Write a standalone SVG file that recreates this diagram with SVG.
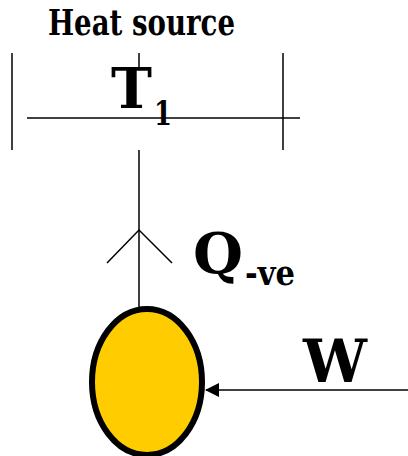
<svg xmlns="http://www.w3.org/2000/svg" width="408" height="456" viewBox="0 0 408 456">
<defs>
<style>
.t{font-family:'DejaVu Serif',serif;font-weight:700;fill:#000}
.ln{stroke:#000;stroke-width:1.5;fill:none}
</style>
<marker id="ah" markerWidth="14" markerHeight="14" refX="13" refY="7" orient="auto" markerUnits="userSpaceOnUse">
<path d="M0,0 L14,7 L0,14 Z" fill="#000"/>
</marker>
</defs>
<rect width="408" height="456" fill="#fff"/>
<g id="heat-source">
<text class="t" x="48" y="35" font-size="35" textLength="187" lengthAdjust="spacingAndGlyphs">Heat source</text>
<line class="ln" x1="12" y1="53" x2="12" y2="150"/>
<line class="ln" x1="283" y1="53" x2="283" y2="150"/>
<line class="ln" x1="27" y1="118" x2="300" y2="118"/>
<line class="ln" x1="139" y1="53" x2="139" y2="70"/>
<text class="t" x="111" y="108" font-size="56" textLength="41" lengthAdjust="spacingAndGlyphs">T</text>
<text class="t" x="154" y="125" font-size="34" textLength="18" lengthAdjust="spacingAndGlyphs">1</text>
</g>
<g id="system">
<ellipse cx="147" cy="382" rx="55" ry="73" fill="#FFCC00" stroke="#000" stroke-width="6"/>
</g>
<g id="connectors">
<line class="ln" x1="139" y1="150" x2="139" y2="309"/>
<polyline class="ln" points="107,263 139,230 172,263"/>
<line class="ln" x1="408" y1="390" x2="206" y2="390" marker-end="url(#ah)"/>
</g>
<g id="labels">
<text class="t" x="193" y="273" font-size="56" textLength="50" lengthAdjust="spacingAndGlyphs">Q</text>
<text class="t" x="245" y="285" font-size="36" textLength="50" lengthAdjust="spacingAndGlyphs">-ve</text>
<text class="t" x="303" y="382" font-size="60" textLength="64" lengthAdjust="spacingAndGlyphs">W</text>
</g>
</svg>
